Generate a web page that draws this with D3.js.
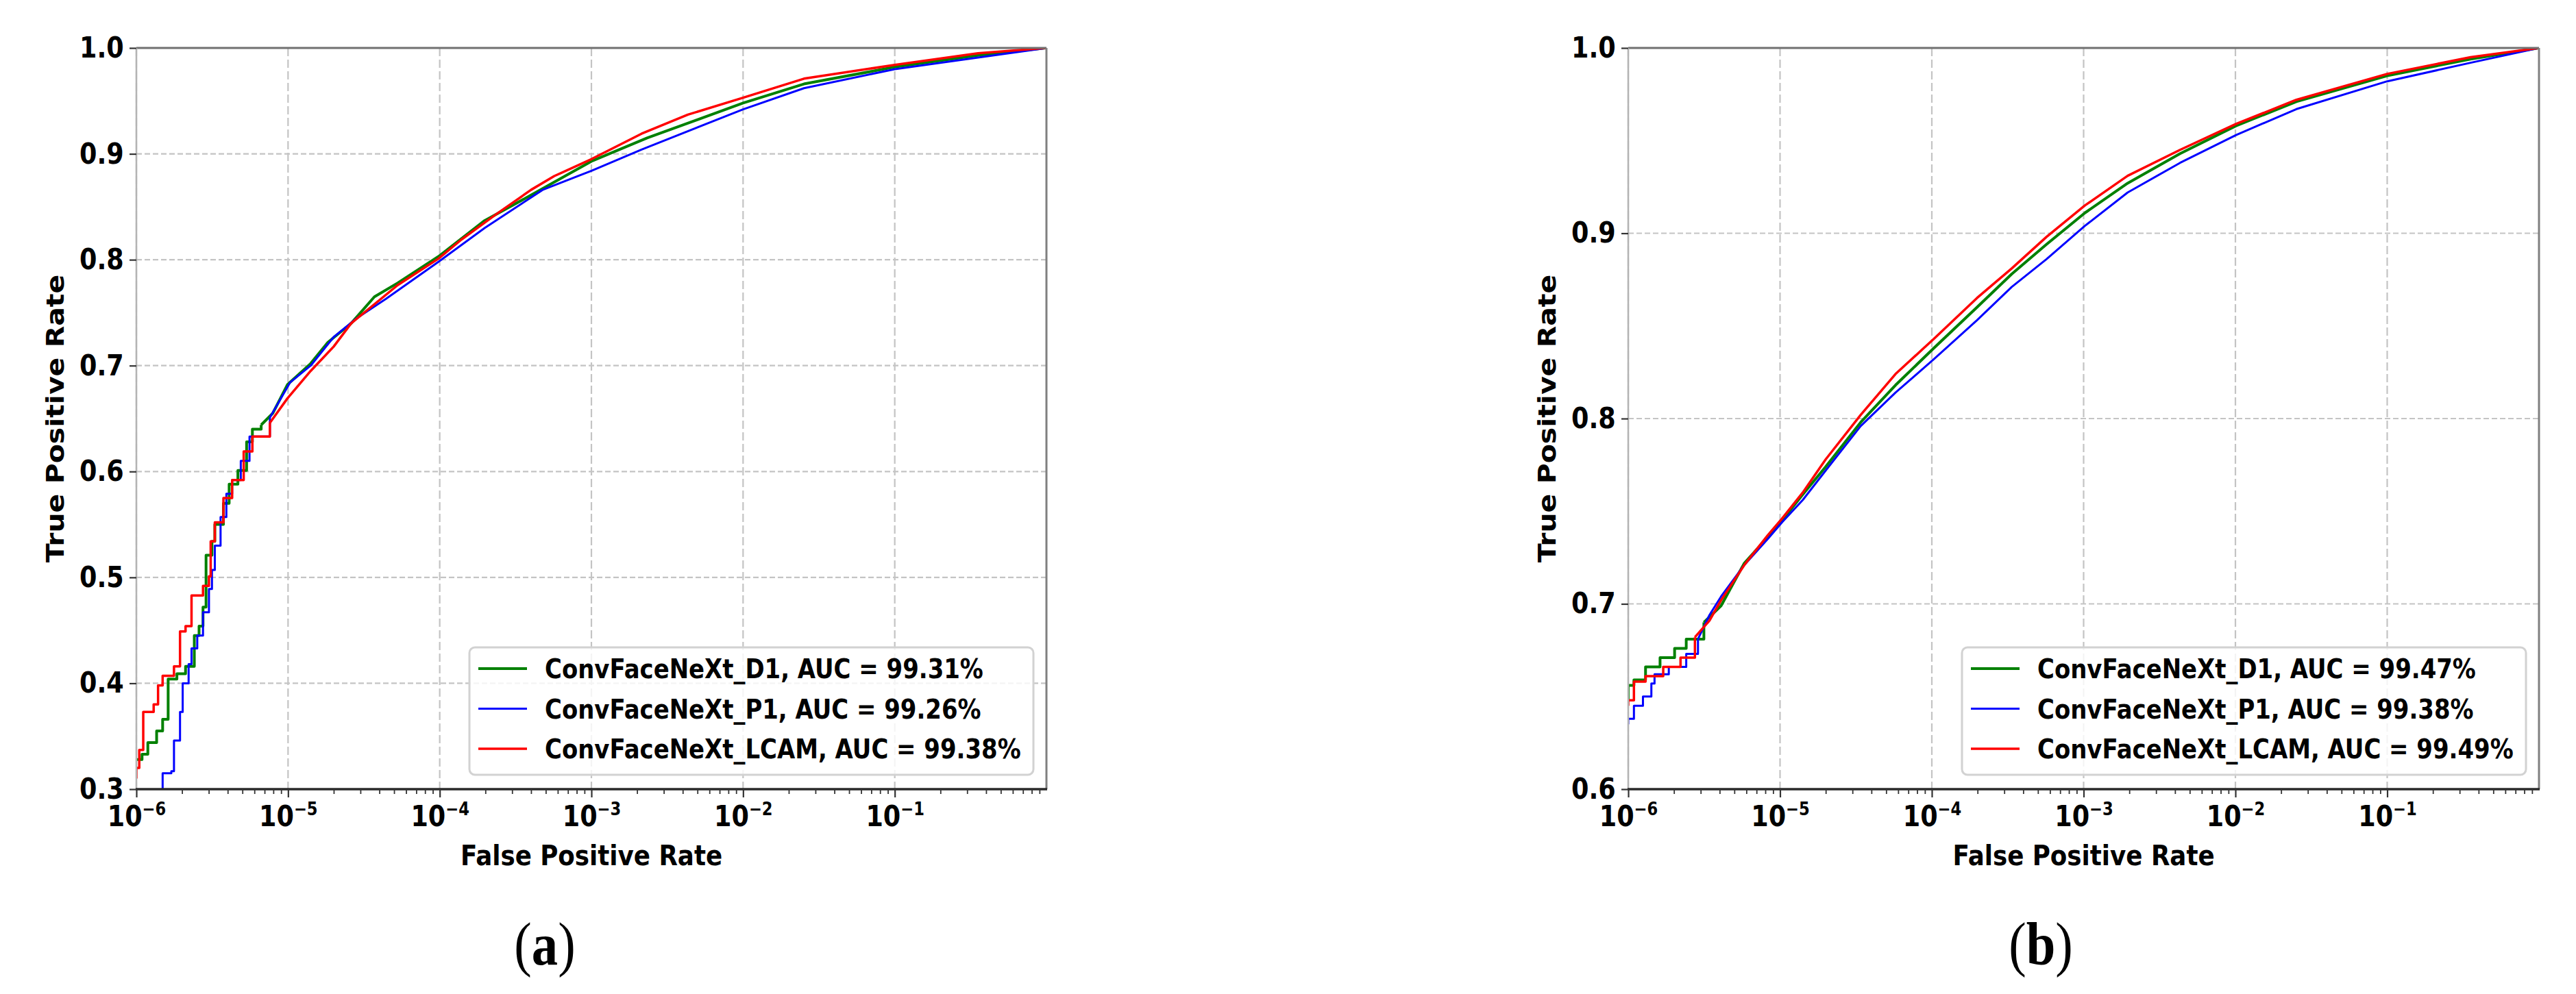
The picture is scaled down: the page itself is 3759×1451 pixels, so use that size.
<!DOCTYPE html>
<html><head><meta charset="utf-8">
<script src="https://cdn.jsdelivr.net/npm/d3@7"></script>
<style>body{margin:0;background:#fff}svg{display:block}</style>
</head><body>
<svg id="c" width="3759" height="1451"></svg>
<script>
// ---------- DATA ----------
const seriesNames = ["ConvFaceNeXt_D1", "ConvFaceNeXt_P1", "ConvFaceNeXt_LCAM"];
const seriesColors = ["#008000", "#0000ff", "#ff0000"];
const aucA = ["99.31%", "99.26%", "99.38%"];
const aucB = ["99.47%", "99.38%", "99.49%"];
const xTickValues = [1e-6, 1e-5, 1e-4, 1e-3, 1e-2, 1e-1];
const xTickExponents = ["−6", "−5", "−4", "−3", "−2", "−1"];
const yTicksA = [0.3, 0.4, 0.5, 0.6, 0.7, 0.8, 0.9, 1.0];
const yTicksB = [0.6, 0.7, 0.8, 0.9, 1.0];
const xLabel = "False Positive Rate";
const yLabel = "True Positive Rate";
const captions = ["a", "b"];

// panel (a) ROC points [FPR, TPR]
const rocA_D1 = [[1.0e-6,0.328],[1.09e-6,0.333],[1.19e-6,0.344],[1.36e-6,0.355],[1.49e-6,0.366],[1.62e-6,0.404],[1.85e-6,0.409],[2.11e-6,0.416],[2.41e-6,0.445],[2.59e-6,0.454],[2.75e-6,0.472],[2.88e-6,0.521],[3.15e-6,0.534],[3.29e-6,0.55],[3.75e-6,0.57],[4.09e-6,0.588],[4.67e-6,0.601],[5.33e-6,0.628],[5.82e-6,0.64],[6.65e-6,0.644],[7.93e-6,0.655],[9.9e-6,0.682],[1.41e-5,0.702],[1.83e-5,0.722],[2.61e-5,0.74],[3.71e-5,0.765],[5.28e-5,0.778],[9.8e-5,0.803],[1.98e-4,0.837],[4.0e-4,0.861],[1.0e-3,0.893],[2.33e-3,0.915],[1.0e-2,0.948],[2.52e-2,0.966],[0.1,0.982],[0.354,0.993],[1,1]];
const rocA_P1 = [[1.49e-6,0.25],[1.49e-6,0.315],[1.70e-6,0.317],[1.77e-6,0.346],[1.94e-6,0.373],[2.02e-6,0.40],[2.21e-6,0.418],[2.31e-6,0.433],[2.52e-6,0.445],[2.75e-6,0.467],[3.01e-6,0.489],[3.15e-6,0.507],[3.29e-6,0.53],[3.59e-6,0.557],[3.92e-6,0.579],[4.28e-6,0.592],[4.88e-6,0.61],[5.57e-6,0.633],[7.59e-6,0.651],[1.03e-5,0.684],[1.41e-5,0.70],[2.0e-5,0.727],[2.85e-5,0.745],[4.42e-5,0.763],[9.8e-5,0.798],[1.98e-4,0.83],[4.77e-4,0.866],[1.0e-3,0.884],[2.14e-3,0.904],[1.0e-2,0.942],[2.52e-2,0.962],[0.1,0.98],[0.354,0.991],[1,1]];
const rocA_LCAM = [[1.0e-6,0.31],[1.0e-6,0.32],[1.045e-6,0.337],[1.11e-6,0.373],[1.30e-6,0.38],[1.39e-6,0.398],[1.49e-6,0.407],[1.77e-6,0.416],[1.94e-6,0.449],[2.11e-6,0.454],[2.31e-6,0.483],[2.75e-6,0.492],[3.01e-6,0.501],[3.09e-6,0.534],[3.29e-6,0.552],[3.75e-6,0.575],[4.28e-6,0.592],[5.10e-6,0.619],[5.82e-6,0.633],[7.59e-6,0.646],[9.9e-6,0.669],[1.41e-5,0.695],[2.0e-5,0.718],[2.61e-5,0.74],[5.28e-5,0.776],[9.8e-5,0.801],[1.39e-4,0.819],[2.36e-4,0.843],[4.0e-4,0.866],[5.69e-4,0.879],[1.0e-3,0.895],[2.14e-3,0.919],[4.32e-3,0.937],[1.0e-2,0.953],[2.52e-2,0.971],[0.1,0.984],[0.354,0.995],[1,1]];

// panel (b) ROC points [FPR, TPR]
const rocB_D1 = [[1.0e-6,0.648],[1.0e-6,0.656],[1.09e-6,0.659],[1.30e-6,0.666],[1.62e-6,0.671],[2.02e-6,0.676],[2.41e-6,0.681],[3.15e-6,0.69],[4.09e-6,0.699],[5.82e-6,0.722],[8.3e-6,0.736],[1.03e-5,0.745],[1.41e-5,0.759],[2.0e-5,0.774],[3.4e-5,0.798],[5.76e-5,0.818],[1.03e-4,0.838],[1.98e-4,0.86],[3.36e-4,0.878],[5.69e-4,0.894],[1.02e-3,0.911],[1.95e-3,0.927],[4.32e-3,0.943],[1.01e-2,0.958],[2.52e-2,0.971],[0.1,0.985],[0.354,0.994],[1,1]];
const rocB_P1 = [[1.0e-6,0.635],[1.0e-6,0.638],[1.09e-6,0.645],[1.25e-6,0.65],[1.42e-6,0.657],[1.49e-6,0.662],[1.85e-6,0.666],[2.41e-6,0.673],[2.88e-6,0.681],[3.43e-6,0.694],[4.09e-6,0.704],[5.82e-6,0.721],[8.3e-6,0.735],[1.03e-5,0.744],[1.41e-5,0.756],[2.0e-5,0.772],[3.4e-5,0.796],[5.76e-5,0.814],[1.03e-4,0.832],[1.98e-4,0.853],[3.36e-4,0.871],[5.69e-4,0.886],[1.02e-3,0.904],[1.95e-3,0.922],[4.32e-3,0.938],[1.01e-2,0.953],[2.52e-2,0.967],[0.1,0.982],[0.354,0.992],[1,1]];
const rocB_LCAM = [[1.0e-6,0.645],[1.0e-6,0.648],[1.09e-6,0.658],[1.30e-6,0.661],[1.70e-6,0.666],[2.21e-6,0.671],[2.75e-6,0.682],[3.43e-6,0.691],[4.09e-6,0.702],[5.82e-6,0.721],[8.3e-6,0.737],[1.03e-5,0.746],[1.41e-5,0.76],[2.0e-5,0.778],[3.4e-5,0.802],[5.76e-5,0.824],[1.03e-4,0.843],[1.98e-4,0.865],[3.36e-4,0.881],[5.69e-4,0.898],[1.02e-3,0.915],[1.95e-3,0.931],[4.32e-3,0.945],[1.01e-2,0.959],[2.52e-2,0.972],[0.1,0.986],[0.354,0.995],[1,1]];

// ---------- DRAW ----------
const W = 3759, H = 1451, SX = 0.87;
const FONT = '"DejaVu Sans", sans-serif';
const svg = d3.select('#c');
svg.append('rect').attr('width', W).attr('height', H).attr('fill', '#fff');
const minorTicks = [];
for (let e = -6; e < 0; e++) for (let m = 2; m <= 9; m++) minorTicks.push(m * Math.pow(10, e));
const lineWidths = [4, 3, 3.5];

function panel(cfg) {
  const { id, x0, x1, y0, y1, yDomain, yTicks, series, aucs, stepLimit, capX, yLabX } = cfg;
  const x = d3.scaleLog().domain([1e-6, 1]).range([x0, x1]);
  const y = d3.scaleLinear().domain(yDomain).range([y1, y0]);
  const g = svg.append('g');

  g.append('defs').append('clipPath').attr('id', 'clip' + id)
    .append('rect').attr('x', x0).attr('y', y0).attr('width', x1 - x0).attr('height', y1 - y0);

  // grid
  g.append('g').selectAll('line').data(xTickValues).join('line')
    .attr('x1', d => x(d)).attr('x2', d => x(d)).attr('y1', y0).attr('y2', y1)
    .attr('stroke', '#c4c4c4').attr('stroke-width', 2.2).attr('stroke-dasharray', '12,5');
  g.append('g').selectAll('line').data(yTicks).join('line')
    .attr('x1', x0).attr('x2', x1).attr('y1', d => y(d)).attr('y2', d => y(d))
    .attr('stroke', '#c4c4c4').attr('stroke-width', 2.2).attr('stroke-dasharray', '8,4');

  // curves
  const cg = g.append('g').attr('clip-path', `url(#clip${id})`);
  const stepLine = d3.line().x(d => x(d[0])).y(d => y(d[1])).curve(d3.curveStepAfter);
  const linLine = d3.line().x(d => x(d[0])).y(d => y(d[1])).curve(d3.curveLinear);
  series.forEach((s, i) => {
    let k = s.findIndex(p => p[0] >= stepLimit);
    if (k < 0) k = s.length - 1;
    const a = s.slice(0, k + 1), b = s.slice(k);
    [[a, stepLine], [b, linLine]].forEach(([pts, gen]) => {
      cg.append('path').attr('d', gen(pts)).attr('fill', 'none')
        .attr('stroke', seriesColors[i]).attr('stroke-width', lineWidths[i])
        .attr('stroke-linejoin', 'round');
    });
  });

  // spines
  g.append('line').attr('x1', x0).attr('x2', x1).attr('y1', y0).attr('y2', y0).attr('stroke', '#707070').attr('stroke-width', 3);
  g.append('line').attr('x1', x1).attr('x2', x1).attr('y1', y0).attr('y2', y1).attr('stroke', '#808080').attr('stroke-width', 3);
  g.append('line').attr('x1', x0).attr('x2', x0).attr('y1', y0).attr('y2', y1).attr('stroke', '#b4b4b4').attr('stroke-width', 2.5);
  g.append('line').attr('x1', x0 - 1).attr('x2', x1 + 1).attr('y1', y1).attr('y2', y1).attr('stroke', '#2a2a2a').attr('stroke-width', 3.5);

  // x axis (major)
  const xa = g.append('g').attr('transform', `translate(0,${y1})`)
    .call(d3.axisBottom(x).tickValues(xTickValues).tickSize(12).tickPadding(12).tickFormat(() => ''));
  xa.select('.domain').remove();
  xa.selectAll('.tick line').attr('stroke', '#333').attr('stroke-width', 2.2);
  xa.selectAll('.tick text').each(function (d, i) {
    const t = d3.select(this);
    t.attr('font-family', FONT).attr('font-weight', 'bold').attr('font-size', 42).attr('fill', '#000')
      .attr('transform', `scale(${SX},1)`);
    t.append('tspan').text('10');
    t.append('tspan').attr('dy', -16).attr('font-size', 26).text(xTickExponents[i]);
  });
  // minor ticks
  const xm = g.append('g').attr('transform', `translate(0,${y1})`)
    .call(d3.axisBottom(x).tickValues(minorTicks).tickSize(7).tickFormat(() => ''));
  xm.select('.domain').remove();
  xm.selectAll('.tick line').attr('stroke', '#333').attr('stroke-width', 1.8);

  // y axis
  const ya = g.append('g').attr('transform', `translate(${x0},0)`)
    .call(d3.axisLeft(y).tickValues(yTicks).tickSize(10).tickPadding(11).tickFormat(d3.format('.1f')));
  ya.select('.domain').remove();
  ya.selectAll('.tick line').attr('stroke', '#333').attr('stroke-width', 2.2);
  ya.selectAll('.tick text').attr('font-family', FONT).attr('font-weight', 'bold')
    .attr('font-size', 42).attr('fill', '#000').attr('transform', `scale(${SX},1)`);

  // axis labels
  g.append('text').attr('transform', `translate(${(x0 + x1) / 2},${y1 + 111}) scale(${SX},1)`)
    .attr('text-anchor', 'middle').attr('font-family', FONT).attr('font-weight', 'bold')
    .attr('font-size', 41).text(xLabel);
  g.append('text').attr('transform', `translate(${yLabX},${(y0 + y1) / 2}) scale(${SX},1) rotate(-90)`)
    .attr('text-anchor', 'middle').attr('dy', '0.35em').attr('font-family', FONT).attr('font-weight', 'bold')
    .attr('font-size', 41).text(yLabel);

  // legend
  const lw = 823, lh = 186;
  const lx = x1 - 19 - lw, ly = y1 - 21 - lh;
  const lg = g.append('g').attr('transform', `translate(${lx},${ly})`);
  lg.append('rect').attr('width', lw).attr('height', lh).attr('rx', 8)
    .attr('fill', '#fff').attr('fill-opacity', 0.82).attr('stroke', '#d2d2d2').attr('stroke-width', 3);
  series.forEach((s, i) => {
    const ry = 31 + i * 58.5;
    lg.append('line').attr('x1', 13).attr('x2', 84).attr('y1', ry).attr('y2', ry)
      .attr('stroke', seriesColors[i]).attr('stroke-width', lineWidths[i]);
    lg.append('text').attr('transform', `translate(110,${ry}) scale(${SX},1)`)
      .attr('dy', '0.36em').attr('font-family', FONT).attr('font-weight', 'bold')
      .attr('font-size', 39).text(`${seriesNames[i]}, AUC = ${aucs[i]}`);
  });

  // caption
  const cap = g.append('text').attr('transform', `translate(${capX},1408) scale(${SX},1)`)
    .attr('text-anchor', 'middle').attr('font-family', '"Liberation Serif", serif').attr('font-size', 88);
  cap.append('tspan').text('(');
  cap.append('tspan').attr('font-weight', 'bold').text(captions[id]);
  cap.append('tspan').text(')');
}

panel({ id: 0, x0: 199, x1: 1527, y0: 70, y1: 1152, yDomain: [0.3, 1.0], yTicks: yTicksA,
  series: [rocA_D1, rocA_P1, rocA_LCAM], aucs: aucA, stepLimit: 6e-6, capX: 795, yLabX: 81 });
panel({ id: 1, x0: 2376, x1: 3705, y0: 70, y1: 1152, yDomain: [0.6, 1.0], yTicks: yTicksB,
  series: [rocB_D1, rocB_P1, rocB_LCAM], aucs: aucB, stepLimit: 2.5e-6, capX: 2978, yLabX: 2258 });
</script>
</body></html>
